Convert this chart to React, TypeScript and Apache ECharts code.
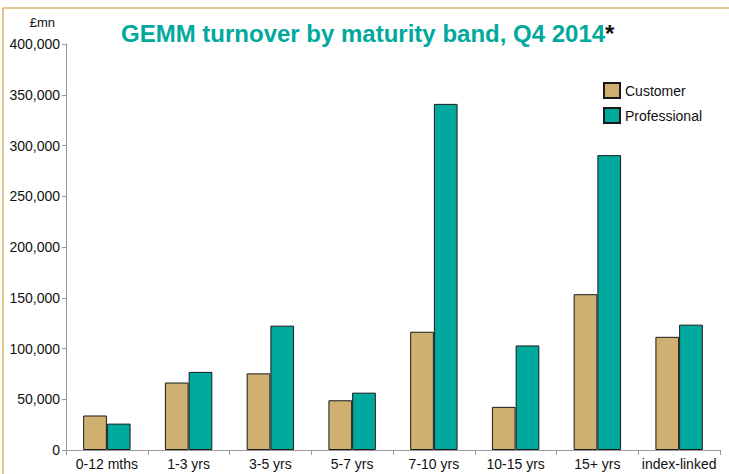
import React, { useEffect, useRef } from "react";
import * as echarts from "echarts";

const categories = ["0-12 mths", "1-3 yrs", "3-5 yrs", "5-7 yrs", "7-10 yrs", "10-15 yrs", "15+ yrs", "index-linked"];
const customer = [34000, 66500, 75500, 49000, 116500, 42500, 153500, 111500];
const professional = [26000, 77000, 122500, 56500, 341000, 103000, 290500, 123500];
const seriesNames = ["Customer", "Professional"];

const FONT = "Liberation Sans, Arial, sans-serif";

export default function App() {
  const ref = useRef<HTMLDivElement>(null);
  useEffect(() => {
    if (!ref.current) return;
    const chart = echarts.init(ref.current, null, { renderer: "svg" });
    chart.setOption({
      animation: false,
      backgroundColor: "#ffffff",
      textStyle: { fontFamily: FONT },
      title: {
        text: "{t|GEMM turnover by maturity band, Q4 2014}{s|*}",
        left: 116,
        top: 16,
        textStyle: {
          rich: {
            t: { fontFamily: FONT, fontSize: 24, fontWeight: "bold", color: "#00A99D" },
            s: { fontFamily: FONT, fontSize: 24, fontWeight: "bold", color: "#111111" },
          },
        },
      },
      legend: {
        orient: "vertical",
        left: 598,
        top: 77,
        itemWidth: 16,
        itemHeight: 15,
        itemGap: 8,
        icon: "rect",
        data: seriesNames,
        textStyle: { fontFamily: FONT, fontSize: 14, color: "#111" },
      },
      grid: { left: 66, right: 9, top: 44, bottom: 24, containLabel: false },
      xAxis: {
        type: "category",
        data: categories,
        axisLine: { lineStyle: { color: "#999", width: 1 } },
        axisTick: { show: true, length: 5, lineStyle: { color: "#999" } },
        axisLabel: { fontFamily: FONT, fontSize: 14, color: "#111", margin: 7, interval: 0 },
      },
      yAxis: {
        type: "value",
        min: 0,
        max: 400000,
        interval: 50000,
        axisLine: { show: true, lineStyle: { color: "#999", width: 1 } },
        axisTick: { show: true, length: 4, lineStyle: { color: "#999" } },
        splitLine: { show: false },
        axisLabel: {
          fontFamily: FONT,
          fontSize: 14,
          color: "#111",
          margin: 6,
          formatter: (v: number) => v.toLocaleString("en-US"),
        },
      },
      series: [
        {
          name: seriesNames[0],
          type: "bar",
          data: customer,
          barGap: "0%",
          barCategoryGap: "42%",
          itemStyle: { color: "#CFB071", borderColor: "#1a1a1a", borderWidth: 1 },
        },
        {
          name: seriesNames[1],
          type: "bar",
          data: professional,
          itemStyle: { color: "#00A99D", borderColor: "#1a1a1a", borderWidth: 1 },
        },
      ],
      graphic: [
        { type: "line", shape: { x1: 3, y1: 8, x2: 729, y2: 8 }, style: { stroke: "#D6B36C", lineWidth: 1.5 } },
        { type: "line", shape: { x1: 3, y1: 8, x2: 3, y2: 474 }, style: { stroke: "#D6B36C", lineWidth: 1.5 } },
        {
          type: "text",
          x: 55,
          y: 22,
          style: { text: "£mn", font: "13px " + FONT, fill: "#111", textAlign: "right", textVerticalAlign: "middle" },
        },
      ],
    });
    return () => chart.dispose();
  }, []);
  return <div ref={ref} style={{ position: "fixed", left: 0, top: 0, width: 729, height: 474 }} />;
}
